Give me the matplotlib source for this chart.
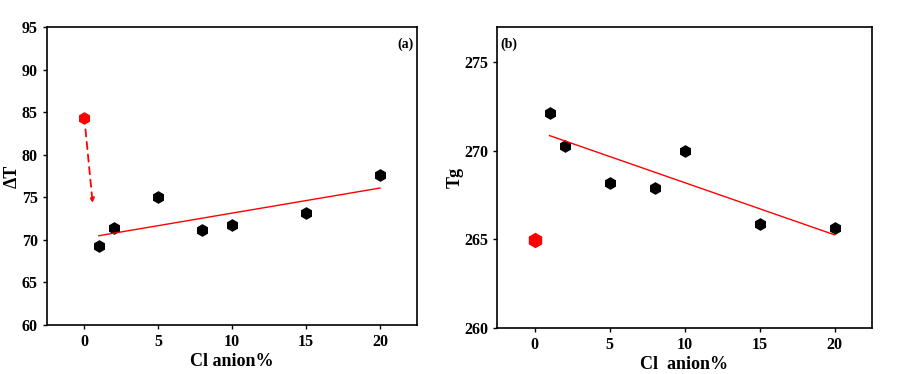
import numpy as np
import matplotlib
matplotlib.use('Agg')
from matplotlib import pyplot as plt

plt.rcParams['font.family'] = ['Liberation Serif', 'DejaVu Serif']
plt.rcParams['font.weight'] = 'bold'

# data
cl = [1, 2, 5, 8, 10, 15, 20]
dT = [69.3, 71.4, 75.0, 71.1, 71.7, 73.2, 77.6]
dT0 = 84.35
tg = [272.13, 270.28, 268.2, 267.93, 270.02, 265.9, 265.67]
tg0 = 264.97
xticks = [0, 5, 10, 15, 20]

fig = plt.figure(figsize=(9.06, 3.74), dpi=100)
ax1 = fig.add_axes([0.0519, 0.131, 0.4084, 0.797])
ax2 = fig.add_axes([0.5486, 0.123, 0.4139, 0.805])

#(a)
ax1.plot(cl, dT, 'h', color='black', ms=8)
ax1.plot([0], [dT0], 'h', color='red', ms=8)
k, b = np.polyfit(cl, dT, 1)
ax1.plot([1, 20], [k * 1 + b, k * 20 + b], color='red', lw=1)
ax1.annotate('', xy=(0.6, 74.0), xytext=(0.08, 83.3),
             arrowprops=dict(arrowstyle='-|>', color='red', lw=1.3,
                             linestyle=(0, (4, 3)), mutation_scale=7))
ax1.set_xlim(-2.5, 22.5)
ax1.set_ylim(60, 95)
ax1.set_yticks(range(60, 96, 5))
ax1.set_xlabel('Cl anion%', fontsize=13, fontweight='bold', labelpad=2)
ax1.set_ylabel('ΔT', fontsize=13, fontweight='bold', labelpad=1)
ax1.text(0.99, 0.965, '(a)', transform=ax1.transAxes, ha='right', va='top',
         fontsize=10, fontweight='bold')

#(b)
ax2.plot(cl, tg, 'h', color='black', ms=8)
ax2.plot([0], [tg0], 'h', color='red', ms=10)
k2, b2 = np.polyfit(cl, tg, 1)
ax2.plot([1, 20], [k2 * 1 + b2, k2 * 20 + b2], color='red', lw=1)
ax2.set_xlim(-2.5, 22.5)
ax2.set_ylim(260, 277)
ax2.set_yticks([260, 265, 270, 275])
ax2.set_xlabel('Cl  anion%', fontsize=13, fontweight='bold', labelpad=2)
ax2.set_ylabel('Tg', fontsize=13, fontweight='bold', labelpad=0)
ax2.text(0.01, 0.965, '(b)', transform=ax2.transAxes, ha='left', va='top',
         fontsize=10, fontweight='bold')

for ax in (ax1, ax2):
    ax.set_xticks(xticks)
    ax.tick_params(direction='out', length=3, width=1, labelsize=11.5)
    for s in ax.spines.values():
        s.set_linewidth(1.2)

plt.savefig('out.png', dpi=100)
